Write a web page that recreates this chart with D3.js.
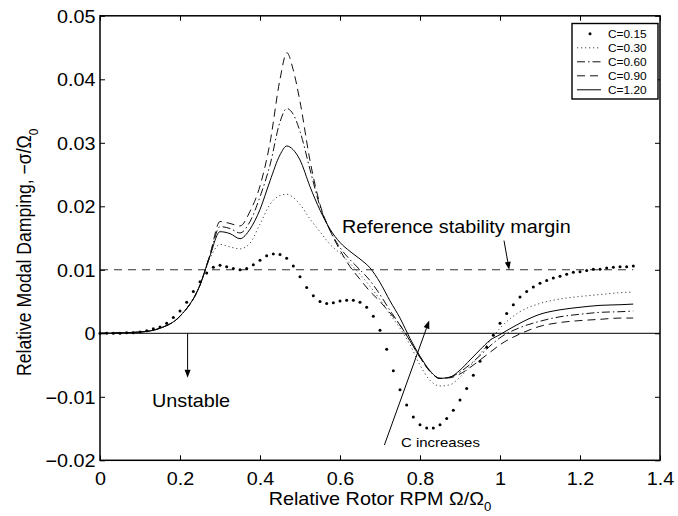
<!DOCTYPE html>
<html>
<head>
<meta charset="utf-8">
<script src="https://cdn.jsdelivr.net/npm/d3@7"></script>
<style>
  body { margin: 0; background: #fff; }
  text { font-family: "Liberation Sans", Arial, Helvetica, sans-serif; fill: #000; }
</style>
</head>
<body>
<div id="chart"></div>
<script>
// ---------------------------------------------------------------------------
// DATA
// ---------------------------------------------------------------------------
const xTicks = [0, 0.2, 0.4, 0.6, 0.8, 1, 1.2, 1.4];
const xTickLabels = ["0", "0.2", "0.4", "0.6", "0.8", "1", "1.2", "1.4"];
const yTicks = [-0.02, -0.01, 0, 0.01, 0.02, 0.03, 0.04, 0.05];
const yTickLabels = ["\u22120.02", "\u22120.01", "0", "0.01", "0.02", "0.03", "0.04", "0.05"];

const legendLabels = ["C=0.15", "C=0.30", "C=0.60", "C=0.90", "C=1.20"];

// C=0.15 is drawn as markers only, one sample every 1/60 of rotor rpm
const dotStep = 1 / 60;
const c015 = [
  0, 0, 0, 0, 0.0001, 0.0001, 0.0002, 0.0004, 0.0007, 0.0010,
  0.0016, 0.0025, 0.0035, 0.0049, 0.0066, 0.0081, 0.0095, 0.0104, 0.0107, 0.0105,
  0.0102, 0.0100, 0.0102, 0.0108, 0.0115, 0.0122, 0.0125, 0.0124, 0.0118, 0.0106,
  0.0089, 0.0072, 0.0059, 0.0050, 0.0047, 0.0048, 0.0051, 0.0052, 0.0052, 0.0049,
  0.0041, 0.0027, 0.0005, -0.0025, -0.0059, -0.0089, -0.0113, -0.0132, -0.0144, -0.0149,
  -0.0149, -0.0144, -0.0134, -0.0121, -0.0105, -0.0087, -0.0066, -0.0044, -0.0022, -0.0003,
  0.0016, 0.0031, 0.0045, 0.0057, 0.0066, 0.0073, 0.0079, 0.0083, 0.0087, 0.0090,
  0.0093, 0.0096, 0.0097, 0.0099, 0.0101, 0.0101, 0.0103, 0.0104, 0.0105, 0.0105,
  0.0106
];

// knots for the line series
const rpm = [0, 0.1, 0.15, 0.2, 0.25, 0.275, 0.3, 0.325, 0.35, 0.375,
  0.4, 0.425, 0.45, 0.467, 0.483, 0.5, 0.525, 0.55, 0.575, 0.6,
  0.625, 0.65, 0.675, 0.7, 0.725, 0.75, 0.775, 0.8, 0.825, 0.85,
  0.875, 0.9, 0.925, 0.95, 0.975, 1.0, 1.05, 1.1, 1.15, 1.2,
  1.25, 1.3, 1.333];
const c030 = [0, 0.0002, 0.0008, 0.0027, 0.0076, 0.0118, 0.0140, 0.0136, 0.0133, 0.0142,
  0.0172, 0.0203, 0.0217, 0.0219, 0.0214, 0.0203, 0.0180, 0.0160, 0.0140, 0.0126,
  0.0110, 0.0093, 0.0074, 0.0053, 0.0030, 0.0008, -0.0018, -0.0050, -0.0074, -0.0083,
  -0.0081, -0.0069, -0.0052, -0.0033, -0.0012, 0.0008, 0.0034, 0.0047, 0.0054, 0.0058,
  0.0061, 0.0064, 0.0065];
const c060 = [0, 0.0002, 0.0008, 0.0027, 0.0076, 0.0123, 0.0168, 0.0165, 0.0158, 0.0176,
  0.0215, 0.0265, 0.0333, 0.0354, 0.0345, 0.0318, 0.0258, 0.0200, 0.0162, 0.0135,
  0.0116, 0.0100, 0.0083, 0.0061, 0.0036, 0.0013, -0.0012, -0.0038, -0.0060, -0.0071,
  -0.0069, -0.0061, -0.0049, -0.0035, -0.0020, -0.0007, 0.0009, 0.0019, 0.0026, 0.0030,
  0.0033, 0.0034, 0.0035];
const c090 = [0, 0.0002, 0.0008, 0.0027, 0.0076, 0.0124, 0.0176, 0.0173, 0.0169, 0.0192,
  0.0232, 0.0300, 0.0400, 0.0442, 0.0415, 0.0365, 0.0272, 0.0203, 0.0162, 0.0131,
  0.0105, 0.0085, 0.0066, 0.0050, 0.0032, 0.0013, -0.0012, -0.0038, -0.0060, -0.0071,
  -0.0070, -0.0064, -0.0054, -0.0042, -0.0030, -0.0018, -0.0001, 0.0011, 0.0017, 0.0020,
  0.0022, 0.0024, 0.0024];
const c120 = [0, 0.0002, 0.0008, 0.0027, 0.0076, 0.0122, 0.0160, 0.0157, 0.0149, 0.0164,
  0.0195, 0.0240, 0.0281, 0.0295, 0.0289, 0.0273, 0.0231, 0.0194, 0.0164, 0.0143,
  0.0129, 0.0117, 0.0103, 0.0080, 0.0051, 0.0024, -0.0008, -0.0036, -0.0059, -0.0071,
  -0.0069, -0.0058, -0.0042, -0.0026, -0.0011, -0.0002, 0.0016, 0.0030, 0.0037, 0.0041,
  0.0044, 0.0045, 0.0046];

// reference stability margin, drawn from 0 to the end of the sweep
const referenceMargin = 0.01;
const sweepEnd = 1.333;

// annotations in data units
const annotations = [
  { text: "Reference stability margin", x: 0.605, y: 0.0158, size: 18, arrow: [[1.01, 0.0146], [1.023, 0.0100]] },
  { text: "Unstable", x: 0.13, y: -0.0116, size: 18, arrow: [[0.219, 0.0], [0.219, -0.0070]] },
  { text: "C increases", x: 0.7525, y: -0.0179, size: 13.6, arrow: [[0.711, -0.0176], [0.823, 0.0020]] }
];

// ---------------------------------------------------------------------------
// LAYOUT
// ---------------------------------------------------------------------------
const width = 678, height = 516;
const plot = { left: 100, right: 660, top: 15.8, bottom: 460.3 };
// the original figure was stretched sideways, so the text is a bit wide
const STRETCH = 1.1;

const svg = d3.select("#chart").append("svg")
  .attr("xmlns", "http://www.w3.org/2000/svg")
  .attr("width", width)
  .attr("height", height);

svg.append("rect").attr("width", width).attr("height", height).attr("fill", "#fff");

const x = d3.scaleLinear().domain([0, 1.4]).range([plot.left, plot.right]);
const y = d3.scaleLinear().domain([-0.02, 0.05]).range([plot.bottom, plot.top]);

// line styles for each series (C=0.15 is markers)
const styles = [
  { dash: null, marker: true },
  { dash: "1.2,2.8", color: "#444" },
  { dash: "8,3,1.5,3", color: "#111" },
  { dash: "8,5", color: "#111" },
  { dash: null, color: "#000" }
];

// ---------------------------------------------------------------------------
// AXES
// ---------------------------------------------------------------------------
function draw_axes() {
  const g = svg.append("g").attr("class", "axes");

  g.append("g")
    .attr("transform", `translate(0,${plot.bottom})`)
    .call(d3.axisBottom(x).tickValues(xTicks).tickFormat((d, i) => xTickLabels[i])
      .tickSizeInner(-5).tickSizeOuter(0).tickPadding(11.5));
  const left = g.append("g")
    .attr("transform", `translate(${plot.left},0)`)
    .call(d3.axisLeft(y).tickValues(yTicks).tickFormat((d, i) => yTickLabels[i])
      .tickSizeInner(-5).tickSizeOuter(0).tickPadding(4));
  g.append("g")
    .attr("transform", `translate(0,${plot.top})`)
    .call(d3.axisTop(x).tickValues(xTicks).tickFormat("").tickSizeInner(-5).tickSizeOuter(0));
  g.append("g")
    .attr("transform", `translate(${plot.right},0)`)
    .call(d3.axisRight(y).tickValues(yTicks).tickFormat("").tickSizeInner(-5).tickSizeOuter(0));

  g.selectAll(".domain").remove();
  g.selectAll(".tick line").attr("stroke", "#000").attr("stroke-width", 1);
  g.selectAll("text")
    .attr("font-size", 18)
    .attr("font-family", null)
    .attr("fill", "#000")
    .attr("transform", `scale(${STRETCH},1)`);
  left.selectAll("text").attr("dy", "0.36em");

  // box
  g.append("rect")
    .attr("x", plot.left).attr("y", plot.top)
    .attr("width", plot.right - plot.left).attr("height", plot.bottom - plot.top)
    .attr("fill", "none").attr("stroke", "#000").attr("stroke-width", 1.5);

  // x label
  const xl = g.append("text")
    .attr("transform", `translate(${(plot.left + plot.right) / 2},505) scale(${STRETCH},1)`)
    .attr("text-anchor", "middle").attr("font-size", 18);
  xl.append("tspan").text("Relative Rotor RPM \u03A9/\u03A9");
  xl.append("tspan").attr("font-size", 12).attr("dy", 6).text("0");

  // y label
  const yl = g.append("text")
    .attr("transform", `translate(31,376) rotate(-90) scale(1,${STRETCH})`)
    .attr("text-anchor", "start").attr("font-size", 17.6);
  yl.append("tspan").text("Relative Modal Damping, \u2212\u03C3/\u03A9");
  yl.append("tspan").attr("font-size", 12).attr("dy", 6).text("0");
}

// ---------------------------------------------------------------------------
// CURVES
// ---------------------------------------------------------------------------
function draw_curves() {
  const g = svg.append("g").attr("class", "curves");

  // zero line and reference margin
  g.append("line")
    .attr("x1", x(0)).attr("x2", x(1.4)).attr("y1", y(0)).attr("y2", y(0))
    .attr("stroke", "#333").attr("stroke-width", 1.2);
  g.append("line")
    .attr("x1", x(0)).attr("x2", x(sweepEnd)).attr("y1", y(referenceMargin)).attr("y2", y(referenceMargin))
    .attr("stroke", "#333").attr("stroke-width", 1.1).attr("stroke-dasharray", "8,6");

  const line = d3.line()
    .x(d => x(d[0]))
    .y(d => y(d[1]))
    .curve(d3.curveMonotoneX);

  [c030, c060, c090, c120].forEach((vals, i) => {
    const st = styles[i + 1];
    g.append("path")
      .datum(rpm.map((r, j) => [r, vals[j]]))
      .attr("fill", "none")
      .attr("stroke", st.color)
      .attr("stroke-width", 1)
      .attr("stroke-dasharray", st.dash)
      .attr("d", line);
  });

  g.selectAll("circle.c015")
    .data(c015)
    .enter()
    .append("circle")
    .attr("class", "c015")
    .attr("cx", (d, i) => x(i * dotStep))
    .attr("cy", d => y(d))
    .attr("r", 1.5)
    .attr("fill", "#000");
}

// ---------------------------------------------------------------------------
// ANNOTATIONS
// ---------------------------------------------------------------------------
function draw_annotations() {
  const g = svg.append("g").attr("class", "annotations");
  annotations.forEach(a => {
    g.append("text")
      .attr("transform", `translate(${x(a.x)},${y(a.y)}) scale(${STRETCH},1)`)
      .attr("font-size", a.size)
      .text(a.text);

    const [p0, p1] = a.arrow;
    const x0 = x(p0[0]), y0 = y(p0[1]), x1 = x(p1[0]), y1 = y(p1[1]);
    const ang = Math.atan2(y1 - y0, x1 - x0);
    const len = 8, half = 3;
    const bx = x1 - len * Math.cos(ang), by = y1 - len * Math.sin(ang);
    g.append("line")
      .attr("x1", x0).attr("y1", y0).attr("x2", bx).attr("y2", by)
      .attr("stroke", "#000").attr("stroke-width", 1);
    g.append("path")
      .attr("d", `M${x1},${y1}L${bx + half * Math.sin(ang)},${by - half * Math.cos(ang)}` +
        `L${bx - half * Math.sin(ang)},${by + half * Math.cos(ang)}Z`)
      .attr("fill", "#000");
  });
}

// ---------------------------------------------------------------------------
// LEGEND
// ---------------------------------------------------------------------------
function draw_legend() {
  const g = svg.append("g").attr("class", "legend").attr("transform", "translate(572,23.5)");
  g.append("rect")
    .attr("width", 86).attr("height", 75.5)
    .attr("fill", "#fff").attr("stroke", "#000").attr("stroke-width", 1.4);

  legendLabels.forEach((lab, i) => {
    const cy = 10.3 + i * 14;
    const st = styles[i];
    if (st.marker) {
      g.append("circle").attr("cx", 18).attr("cy", cy).attr("r", 1.5).attr("fill", "#000");
    } else {
      g.append("line")
        .attr("x1", 5).attr("x2", 29).attr("y1", cy).attr("y2", cy)
        .attr("stroke", st.color).attr("stroke-width", 1)
        .attr("stroke-dasharray", st.dash);
    }
    g.append("text")
      .attr("transform", `translate(36,${cy}) scale(${STRETCH},1)`)
      .attr("dy", "0.36em")
      .attr("font-size", 10.8)
      .text(lab);
  });
}

draw_curves();
draw_axes();
draw_annotations();
draw_legend();
</script>
</body>
</html>
